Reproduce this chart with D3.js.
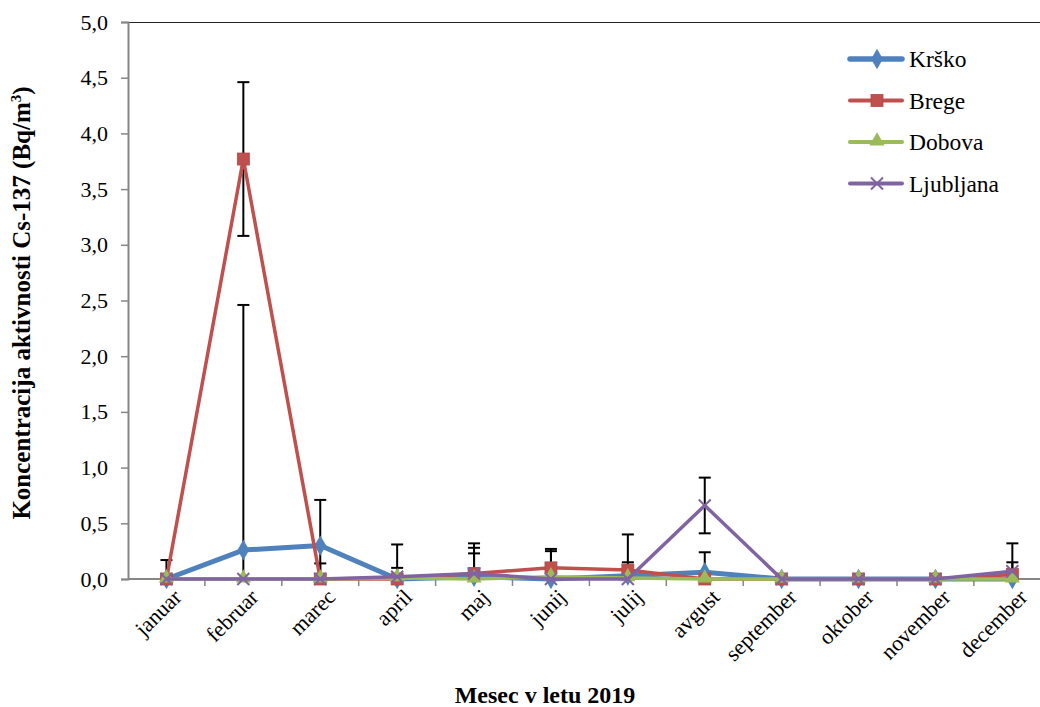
<!DOCTYPE html>
<html><head><meta charset="utf-8">
<script src="https://cdn.jsdelivr.net/npm/d3@7"></script>
<style>body{margin:0;background:#fff}svg{display:block}</style>
</head><body><svg id="c" width="1040" height="707"></svg>
<script>
const months = ["januar","februar","marec","april","maj","junij","julij","avgust","september","oktober","november","december"];
const seriesNames = ["Krško","Brege","Dobova","Ljubljana"];
const krsko     = [0.00, 0.26, 0.30, 0.00, 0.02, 0.00, 0.03, 0.06, 0.00, 0.00, 0.00, 0.00];
const brege     = [0.00, 3.77, 0.00, 0.00, 0.05, 0.10, 0.08, 0.00, 0.00, 0.00, 0.00, 0.04];
const dobova    = [0.00, 0.00, 0.00, 0.01, 0.00, 0.02, 0.01, 0.00, 0.00, 0.00, 0.00, 0.00];
const ljubljana = [0.00, 0.00, 0.00, 0.02, 0.05, 0.00, 0.00, 0.66, 0.00, 0.00, 0.00, 0.07];
const krskoErr     = [0, 2.20, 0.41, 0.10, 0.21, 0.25, 0.12, 0.18, 0, 0, 0, 0];
const bregeErr     = [0.17, 0.69, 0.14, 0, 0.27, 0.17, 0.32, 0, 0, 0, 0, 0.11];
const dobovaErr    = [0, 0, 0, 0, 0, 0, 0, 0, 0, 0, 0, 0];
const ljubljanaErr = [0, 0, 0, 0.29, 0.23, 0, 0, 0.25, 0, 0, 0, 0.25];
const yTicks = [0, 0.5, 1, 1.5, 2, 2.5, 3, 3.5, 4, 4.5, 5];
const xTitle = "Mesec v letu 2019";
const yTitle = "Koncentracija aktivnosti Cs-137 (Bq/m";

const FONT = "'Liberation Serif', 'Times New Roman', serif";
const colors = ["#4F81BD","#C0504D","#9BBB59","#8064A2"];
const values = [krsko, brege, dobova, ljubljana];
const errs = [krskoErr, bregeErr, dobovaErr, ljubljanaErr];
const widths = [5, 3.5, 3.5, 3.5];
const markers = ["diamond","square","triangle","x"];

const svg = d3.select("#c");
const pLeft = 128, pTop = 22, pBottom = 579, bandW = 76.9;
const x = d3.scaleBand().domain(months).range([pLeft, pLeft + bandW*12]).padding(0);
const xc = d => x(d) + x.bandwidth()/2;
const y = d3.scaleLinear().domain([0,5]).range([pBottom, pTop]);

svg.append("defs").append("clipPath").attr("id","pc")
  .append("rect").attr("x", pLeft).attr("y", pTop).attr("width", 1040-pLeft).attr("height", pBottom-pTop);

// top border
svg.append("line").attr("x1", pLeft).attr("x2", 1040).attr("y1", pTop+0.5).attr("y2", pTop+0.5)
  .attr("stroke","#222").attr("stroke-width",1.2);

// y axis
const ya = svg.append("g").attr("transform",`translate(${pLeft},0)`)
  .call(d3.axisLeft(y).tickValues(yTicks).tickSize(7).tickPadding(13).tickFormat(d => d.toFixed(1).replace(".",",")));
ya.select(".domain").attr("stroke","#868686").attr("stroke-width",2);
ya.selectAll(".tick line").attr("stroke","#868686").attr("stroke-width",1.5);
ya.selectAll(".tick text").style("font-size","22px").style("font-family",FONT).attr("fill","#000");

// x axis
const xg = svg.append("g");
xg.append("line").attr("x1", pLeft).attr("x2", 1040).attr("y1", pBottom).attr("y2", pBottom)
  .attr("stroke","#868686").attr("stroke-width",2);
xg.selectAll("line.t").data(months.slice(1)).enter().append("line").attr("class","t")
  .attr("x1", d => x(d)).attr("x2", d => x(d)).attr("y1", pBottom).attr("y2", pBottom+7)
  .attr("stroke","#868686").attr("stroke-width",1.5);
xg.selectAll("text").data(months).enter().append("text")
  .attr("transform", d => `translate(${xc(d)+11},${pBottom+14}) rotate(-45)`)
  .attr("text-anchor","end").attr("dy","0.35em")
  .style("font-size","22px").style("font-family",FONT).text(d => d);

// error bars
const eg = svg.append("g").attr("clip-path","url(#pc)");
values.forEach((vals, si) => {
  vals.forEach((v, i) => {
    const e = errs[si][i];
    if (!e) return;
    const cx = xc(months[i]);
    const y1 = y(v + e), y2 = y(v - e);
    eg.append("line").attr("x1",cx).attr("x2",cx).attr("y1",y1).attr("y2",y2).attr("stroke","#000").attr("stroke-width",2);
    [y1, y2].forEach(yy => eg.append("line").attr("x1",cx-6).attr("x2",cx+6).attr("y1",yy).attr("y2",yy).attr("stroke","#000").attr("stroke-width",2));
  });
});

function drawMarker(g, type, cx, cy, color) {
  if (type === "diamond") {
    g.append("path").attr("d", d3.symbol().type(d3.symbolDiamond).size(120)()).attr("transform",`translate(${cx},${cy})`).attr("fill",color);
  } else if (type === "square") {
    g.append("rect").attr("x",cx-6).attr("y",cy-6).attr("width",12).attr("height",12).attr("fill",color).attr("stroke","#B04A47").attr("stroke-width",0.8);
  } else if (type === "triangle") {
    g.append("path").attr("d", d3.symbol().type(d3.symbolTriangle).size(100)()).attr("transform",`translate(${cx},${cy-1})`).attr("fill",color);
  } else {
    g.append("path").attr("d",`M${cx-6},${cy-6}L${cx+6},${cy+6}M${cx-6},${cy+6}L${cx+6},${cy-6}`).attr("stroke",color).attr("stroke-width",2);
  }
}

// series
const line = d3.line().x((d,i) => xc(months[i])).y(d => y(d));
values.forEach((vals, si) => {
  const g = svg.append("g");
  g.append("path").datum(vals).attr("d", line).attr("fill","none").attr("stroke",colors[si])
    .attr("stroke-width",widths[si]).attr("stroke-linejoin","round").attr("stroke-linecap","round");
  vals.forEach((v,i) => drawMarker(g, markers[si], xc(months[i]), y(v), colors[si]));
});

// legend
const ly = [59, 100.5, 142, 183.5];
seriesNames.forEach((n, si) => {
  const g = svg.append("g");
  g.append("line").attr("x1",850).attr("x2",902).attr("y1",ly[si]).attr("y2",ly[si])
    .attr("stroke",colors[si]).attr("stroke-width",widths[si]+0.5).attr("stroke-linecap","round");
  drawMarker(g, markers[si], 877, ly[si], colors[si]);
  g.append("text").attr("x",909).attr("y",ly[si]).attr("dy","0.35em")
    .style("font-size","23.5px").style("font-family",FONT).text(n);
});

// titles
svg.append("text").attr("x",545).attr("y",703).attr("text-anchor","middle")
  .style("font-size","24px").style("font-weight","bold").style("font-family",FONT).text(xTitle);
const yt = svg.append("text").attr("transform","translate(30,303) rotate(-90)").attr("text-anchor","middle")
  .style("font-size","25px").style("font-weight","bold").style("font-family",FONT);
yt.append("tspan").text(yTitle);
yt.append("tspan").style("font-size","15px").attr("dy","-9").text("3");
yt.append("tspan").attr("dy","9").text(")");
</script></body></html>
